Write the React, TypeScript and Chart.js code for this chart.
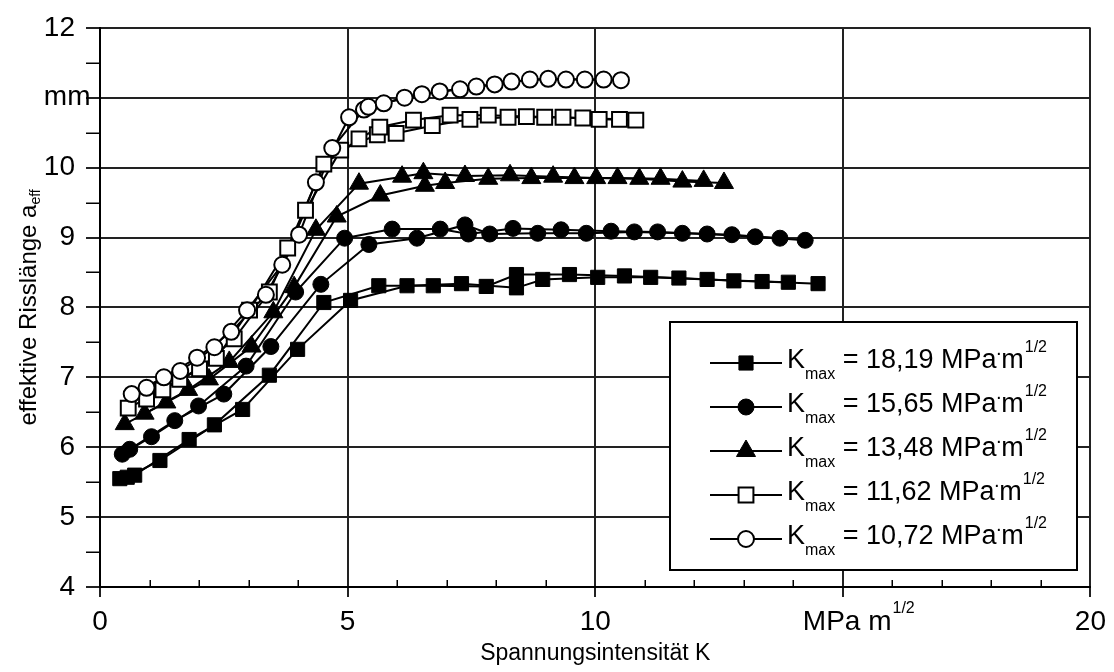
import React, { useEffect, useRef } from 'react';
import { Chart, registerables } from 'chart.js';

Chart.register(...registerables);

const FONT = "'Liberation Sans', Arial, sans-serif";

// axes
const xTickValues = [0, 5, 10, 15, 20];
const yTickValues = [4, 5, 6, 7, 8, 9, 10, 11, 12];
const xUnitText = 'MPa m';
const xUnitSup = '1/2';
const yUnitText = 'mm';
const xTitleText = 'Spannungsintensität K';
const yTitleText = 'effektive Risslänge a';
const yTitleSub = 'eff';
const legendValues = ['18,19', '15,65', '13,48', '11,62', '10,72'];

// Kmax = 18,19 (filled squares)
const k1819X = [0.4, 0.55, 0.7, 1.21, 1.8, 2.31, 2.88, 3.42, 3.99, 4.52, 5.06, 5.63, 6.2, 6.73, 7.3, 7.8, 8.41, 8.41, 8.94, 9.48, 10.05, 10.59, 11.12, 11.69, 12.26, 12.8, 13.37, 13.9, 14.5];
const k1819Y = [5.55, 5.57, 5.6, 5.81, 6.11, 6.32, 6.54, 7.03, 7.4, 8.07, 8.1, 8.31, 8.31, 8.31, 8.34, 8.3, 8.28, 8.47, 8.4, 8.47, 8.43, 8.45, 8.43, 8.42, 8.4, 8.38, 8.37, 8.36, 8.34];

// Kmax = 15,65 (filled circles)
const k1565X = [0.45, 0.6, 1.04, 1.51, 1.99, 2.5, 2.95, 3.45, 3.95, 4.46, 4.94, 5.43, 5.9, 6.4, 6.87, 7.37, 7.44, 7.87, 8.34, 8.84, 9.31, 9.82, 10.32, 10.79, 11.26, 11.76, 12.26, 12.76, 13.23, 13.73, 14.24];
const k1565Y = [5.9, 5.97, 6.15, 6.38, 6.59, 6.76, 7.16, 7.44, 8.22, 8.33, 8.99, 8.9, 9.12, 8.99, 9.12, 9.18, 9.05, 9.05, 9.13, 9.06, 9.11, 9.06, 9.09, 9.08, 9.08, 9.06, 9.05, 9.04, 9.01, 8.99, 8.96];

// Kmax = 13,48 (filled triangles)
const k1348X = [0.5, 0.9, 1.34, 1.78, 2.2, 2.61, 3.06, 3.5, 3.92, 4.36, 4.78, 5.23, 5.66, 6.1, 6.56, 6.53, 6.97, 7.37, 7.84, 8.28, 8.71, 9.15, 9.58, 10.02, 10.45, 10.89, 11.32, 11.76, 12.19, 12.6];
const k1348Y = [6.33, 6.48, 6.64, 6.82, 6.97, 7.22, 7.44, 7.93, 8.29, 9.11, 9.3, 9.77, 9.6, 9.87, 9.74, 9.92, 9.78, 9.88, 9.84, 9.89, 9.85, 9.87, 9.85, 9.85, 9.85, 9.84, 9.84, 9.8, 9.81, 9.78];

// Kmax = 11,62 (open squares)
const k1162X = [0.57, 0.94, 1.27, 1.61, 2.01, 2.35, 2.71, 3.02, 3.42, 3.79, 4.15, 4.52, 4.86, 5.23, 5.6, 5.65, 5.98, 6.33, 6.71, 7.07, 7.47, 7.84, 8.24, 8.61, 8.98, 9.35, 9.75, 10.08, 10.49, 10.82];
const k1162Y = [6.56, 6.69, 6.82, 6.97, 7.12, 7.27, 7.55, 7.96, 8.22, 8.85, 9.39, 10.05, 10.25, 10.41, 10.47, 10.58, 10.49, 10.68, 10.6, 10.75, 10.69, 10.75, 10.72, 10.73, 10.72, 10.72, 10.71, 10.69, 10.69, 10.68];

// Kmax = 10,72 (open circles)
const k1072X = [0.64, 0.94, 1.29, 1.62, 1.96, 2.31, 2.65, 2.97, 3.35, 3.68, 4.02, 4.36, 4.69, 5.03, 5.33, 5.42, 5.73, 6.15, 6.5, 6.86, 7.27, 7.6, 7.97, 8.31, 8.68, 9.05, 9.41, 9.79, 10.17, 10.52];
const k1072Y = [6.76, 6.85, 7.0, 7.09, 7.28, 7.43, 7.65, 7.96, 8.18, 8.61, 9.04, 9.79, 10.28, 10.72, 10.83, 10.87, 10.92, 11.0, 11.05, 11.09, 11.12, 11.16, 11.19, 11.23, 11.26, 11.27, 11.26, 11.26, 11.26, 11.25];

type Series = { xs: number[]; ys: number[]; style: 'rect' | 'circle' | 'triangle'; filled: boolean; radius: number; label: string };

const SERIES: Series[] = [
  { xs: k1819X, ys: k1819Y, style: 'rect', filled: true, radius: 10, label: legendValues[0] },
  { xs: k1565X, ys: k1565Y, style: 'circle', filled: true, radius: 8, label: legendValues[1] },
  { xs: k1348X, ys: k1348Y, style: 'triangle', filled: true, radius: 11, label: legendValues[2] },
  { xs: k1162X, ys: k1162Y, style: 'rect', filled: false, radius: 10.5, label: legendValues[3] },
  { xs: k1072X, ys: k1072Y, style: 'circle', filled: false, radius: 8, label: legendValues[4] },
];

const TICK_FONT = 28;
const Y_TICK_LEN = 14;
const Y_TICK_PAD = 11;
const X_TICK_LEN = 10;
const X_TICK_PAD = 8;

function drawMarker(ctx: CanvasRenderingContext2D, s: Series, x: number, y: number) {
  const r = s.radius;
  ctx.beginPath();
  if (s.style === 'rect') {
    const h = r * Math.SQRT1_2;
    ctx.rect(x - h, y - h, 2 * h, 2 * h);
  } else if (s.style === 'circle') {
    ctx.arc(x, y, r, 0, Math.PI * 2);
  } else {
    ctx.moveTo(x, y - r);
    ctx.lineTo(x + r * 0.866, y + r / 2);
    ctx.lineTo(x - r * 0.866, y + r / 2);
    ctx.closePath();
  }
  ctx.fillStyle = s.filled ? '#000' : '#fff';
  ctx.fill();
  ctx.lineWidth = s.filled ? 1 : 2;
  ctx.strokeStyle = '#000';
  ctx.stroke();
}

const overlayPlugin = {
  id: 'overlay',
  afterDraw(chart: any) {
    const ctx: CanvasRenderingContext2D = chart.ctx;
    const xs = chart.scales.x;
    const ys = chart.scales.y;
    const area = chart.chartArea;
    ctx.save();
    ctx.strokeStyle = '#000';
    ctx.lineWidth = 1.5;
    // minor ticks
    for (let v = 4.5; v < 12; v += 1) {
      const py = Math.round(ys.getPixelForValue(v)) + 0.25;
      ctx.beginPath();
      ctx.moveTo(area.left - Y_TICK_LEN, py);
      ctx.lineTo(area.left, py);
      ctx.stroke();
    }
    for (let v = 1; v < 20; v++) {
      if (v % 5 === 0) continue;
      const px = Math.round(xs.getPixelForValue(v)) + 0.25;
      ctx.beginPath();
      ctx.moveTo(px, area.bottom);
      ctx.lineTo(px, area.bottom - 7);
      ctx.stroke();
    }

    ctx.fillStyle = '#000';
    // y unit "mm" (left aligned with the "10" label)
    ctx.font = `${TICK_FONT}px ${FONT}`;
    ctx.textBaseline = 'middle';
    ctx.textAlign = 'left';
    const labelRight = area.left - Y_TICK_LEN - Y_TICK_PAD;
    const w10 = ctx.measureText('10').width;
    ctx.fillText(yUnitText, labelRight - w10, ys.getPixelForValue(11));

    // x unit "MPa m^1/2"
    const px15 = xs.getPixelForValue(15);
    const wMain = ctx.measureText(xUnitText).width;
    const startX = px15 - 40;
    const labelY = area.bottom + X_TICK_LEN + X_TICK_PAD + TICK_FONT * 0.6;
    ctx.fillText(xUnitText, startX, labelY);
    ctx.font = `16px ${FONT}`;
    ctx.fillText(xUnitSup, startX + wMain + 1, labelY - 13);

    // x title
    ctx.font = `23px ${FONT}`;
    ctx.textAlign = 'center';
    ctx.fillText(xTitleText, (area.left + area.right) / 2, 654);

    // y title (rotated)
    ctx.save();
    ctx.translate(29, (area.top + area.bottom) / 2);
    ctx.rotate(-Math.PI / 2);
    ctx.textAlign = 'left';
    ctx.font = `24px ${FONT}`;
    const wt = ctx.measureText(yTitleText).width;
    ctx.font = `14px ${FONT}`;
    const ws = ctx.measureText(yTitleSub).width;
    const sx = -(wt + ws) / 2;
    ctx.font = `24px ${FONT}`;
    ctx.fillText(yTitleText, sx, 0);
    ctx.font = `14px ${FONT}`;
    ctx.fillText(yTitleSub, sx + wt, 7);
    ctx.restore();

    // legend box
    const bx = 670, by = 322, bw = 407, bh = 248;
    ctx.fillStyle = '#fff';
    ctx.fillRect(bx, by, bw, bh);
    ctx.lineWidth = 2;
    ctx.strokeStyle = '#000';
    ctx.strokeRect(bx, by, bw, bh);
    SERIES.forEach((s, i) => {
      const ry = 363 + i * 44;
      ctx.beginPath();
      ctx.lineWidth = 2;
      ctx.strokeStyle = '#000';
      ctx.moveTo(710, ry);
      ctx.lineTo(782, ry);
      ctx.stroke();
      drawMarker(ctx, s, 746, ry);
      ctx.fillStyle = '#000';
      ctx.textAlign = 'left';
      ctx.textBaseline = 'alphabetic';
      const base = ry + 5;
      let tx = 787;
      ctx.font = `27px ${FONT}`;
      ctx.fillText('K', tx, base);
      tx += ctx.measureText('K').width;
      ctx.font = `16px ${FONT}`;
      ctx.fillText('max', tx, ry + 16);
      tx += ctx.measureText('max').width;
      ctx.font = `27px ${FONT}`;
      const mid = ` = ${s.label} MPa`;
      ctx.fillText(mid, tx, base);
      tx += ctx.measureText(mid).width;
      ctx.font = `20px ${FONT}`;
      ctx.fillText('·', tx - 1, ry - 4);
      tx += ctx.measureText('·').width - 2;
      ctx.font = `27px ${FONT}`;
      ctx.fillText('m', tx, base);
      tx += ctx.measureText('m').width + 1;
      ctx.font = `16px ${FONT}`;
      ctx.fillText('1/2', tx, ry - 11);
    });
    ctx.restore();
  },
};

export default function App() {
  const ref = useRef<HTMLCanvasElement | null>(null);
  useEffect(() => {
    if (!ref.current) return;
    const datasets: any[] = [];
    SERIES.forEach((s, si) => {
      const pts = s.xs.map((x, i) => ({ x, y: s.ys[i] }));
      [0, 1].forEach((par) => {
        datasets.push({
          data: pts.filter((_, i) => i % 2 === par),
          showLine: true,
          borderColor: '#000',
          borderWidth: 2,
          pointRadius: 0,
          pointHoverRadius: 0,
          tension: 0,
          order: 20 + si,
        });
      });
      datasets.push({
        data: pts,
        showLine: false,
        pointStyle: s.style,
        pointRadius: s.radius,
        pointHoverRadius: s.radius,
        pointBackgroundColor: s.filled ? '#000' : '#fff',
        pointBorderColor: '#000',
        pointBorderWidth: s.filled ? 1 : 2,
        order: 10 - si,
      });
    });
    const chart = new Chart(ref.current, {
      type: 'scatter',
      data: { datasets },
      plugins: [overlayPlugin],
      options: {
        animation: false,
        responsive: false,
        events: [],
        layout: { padding: { left: 0, right: 19, top: 20, bottom: 0 } },
        plugins: { legend: { display: false }, tooltip: { enabled: false } },
        scales: {
          x: {
            type: 'linear',
            min: 0,
            max: 20,
            afterFit: (sc: any) => { sc.height = 85; },
            afterBuildTicks: (sc: any) => { sc.ticks = xTickValues.map((v) => ({ value: v })); },
            ticks: {
              callback: (v: any) => (v === 15 ? '' : String(v)),
              font: { family: FONT, size: TICK_FONT },
              color: '#000',
              padding: X_TICK_PAD,
              maxRotation: 0,
            },
            grid: { color: '#222', lineWidth: 2, tickLength: X_TICK_LEN },
            border: { color: '#000', width: 2 },
          },
          y: {
            type: 'linear',
            min: 4,
            max: 12,
            afterFit: (sc: any) => { sc.width = 100; },
            afterBuildTicks: (sc: any) => { sc.ticks = yTickValues.map((v) => ({ value: v })); },
            ticks: {
              callback: (v: any) => (v === 11 ? '' : String(v)),
              font: { family: FONT, size: TICK_FONT },
              color: '#000',
              padding: Y_TICK_PAD,
            },
            grid: { color: '#222', lineWidth: 2, tickLength: Y_TICK_LEN },
            border: { color: '#000', width: 2 },
          },
        },
      },
    });
    return () => chart.destroy();
  }, []);
  return (
    <div style={{ position: 'fixed', left: 0, top: 0, width: 1114, height: 672, background: '#fff' }}>
      <canvas ref={ref} width={1114} height={672} style={{ display: 'block' }} />
    </div>
  );
}
